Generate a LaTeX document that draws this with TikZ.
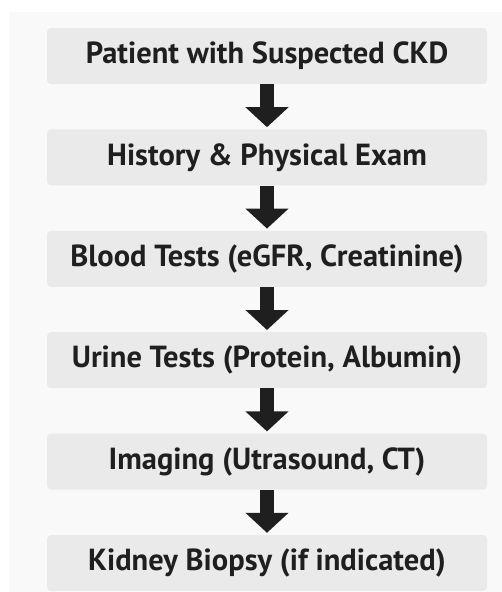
\documentclass[tikz,border=0pt]{standalone}
\usepackage{fontspec}
\setmainfont{PT Sans}
\usetikzlibrary{arrows.meta,positioning}

\definecolor{pagegray}{HTML}{F9F9F9}
\definecolor{boxgray}{HTML}{EAEAEA}

\tikzset{
    stepbox/.style={fill=boxgray, rounded corners=4pt, minimum width=440pt, minimum height=56pt,
        inner sep=0pt, font=\fontsize{30.5}{36}\selectfont\bfseries, text=black!88},
    flowarrow/.style={line width=14pt, black!88, shorten >=2pt,
        -{Triangle[width=42pt,length=20pt]}}
}

\begin{document}
\begin{tikzpicture}[x=1pt, y=-1pt, node distance=45pt]

    \useasboundingbox (0,0) rectangle (502,592);
    \fill[pagegray] (9,12) rectangle (502,592);

    % steps
    \node[stepbox] (patient) at (267,56) {Patient with Suspected CKD};
    \node[stepbox, below=of patient] (history) {History \& Physical Exam};
    \node[stepbox, below=of history] (blood) {Blood Tests (eGFR, Creatinine)};
    \node[stepbox, below=of blood] (urine) {Urine Tests (Protein, Albumin)};
    \node[stepbox, below=of urine] (imaging) {Imaging (Utrasound, CT)};
    \node[stepbox, below=of imaging] (biopsy) {Kidney Biopsy (if indicated)};

    % arrows
    \draw[flowarrow] (patient) -- (history);
    \draw[flowarrow] (history) -- (blood);
    \draw[flowarrow] (blood) -- (urine);
    \draw[flowarrow] (urine) -- (imaging);
    \draw[flowarrow] (imaging) -- (biopsy);

\end{tikzpicture}
\end{document}
